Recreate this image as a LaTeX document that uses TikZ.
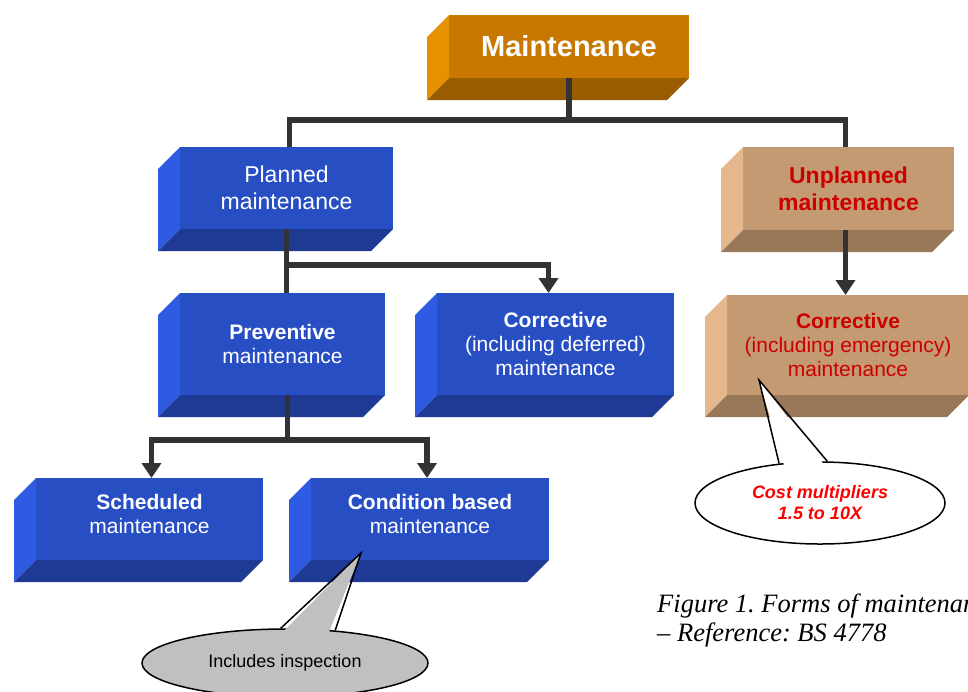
\documentclass[tikz,border=0pt]{standalone}
\usepackage{fontspec}
\setmainfont{Liberation Sans}
\newfontfamily\capfont{Liberation Serif}
\usetikzlibrary{arrows.meta,shapes.geometric,calc}
\frenchspacing
\definecolor{ofront}{HTML}{C87800}
\definecolor{oleft}{HTML}{E69100}
\definecolor{obottom}{HTML}{995C00}
\definecolor{bfront}{HTML}{284EC4}
\definecolor{bleft}{HTML}{2F5BE3}
\definecolor{bbottom}{HTML}{1F3A94}
\definecolor{tfront}{HTML}{C49A72}
\definecolor{tleft}{HTML}{E4B78C}
\definecolor{tbottom}{HTML}{99785A}
\definecolor{linegray}{HTML}{333333}
\definecolor{darkred}{HTML}{CC0000}
\definecolor{callgray}{HTML}{C0C0C0}
\def\bdep{22}
\newcommand\bevelfaces[3]{%
  \fill[#2] (#1.north west) -- ++(-\bdep,\bdep) -- ([shift={(-\bdep,\bdep)}]#1.south west) -- (#1.south west) -- cycle;
  \fill[#3] (#1.south west) -- ++(-\bdep,\bdep) -- ([shift={(-\bdep,\bdep)}]#1.south east) -- (#1.south east) -- cycle;
}
\tikzset{
  face/.style={draw=none, inner sep=0pt, outer sep=0pt, align=center},
  orangebox/.style={face, fill=ofront, text=white},
  bluebox/.style={face, fill=bfront, text=white},
  tanbox/.style={face, fill=tfront, text=darkred},
  bigtext/.style={font=\fontsize{23}{27}\selectfont},
  smalltext/.style={font=\fontsize{21}{24}\selectfont},
  conn/.style={draw=linegray, line width=5.5pt},
  arr/.style={conn, -{Triangle[width=19pt,length=15pt]}},
  callout/.style={ellipse, draw=black, line width=1.5pt, inner sep=0pt, align=center},
}
\begin{document}
\begin{tikzpicture}[x=1pt,y=-1pt]
\useasboundingbox (0,0) rectangle (968,691);

% boxes (front faces)
\node[orangebox, minimum width=240pt, minimum height=63pt, font=\bfseries\fontsize{29}{34}\selectfont] (maint) at (569,46.5) {Maintenance};
\node[bluebox, bigtext, minimum width=213pt, minimum height=82pt] (planned) at (286.5,188) {Planned\\maintenance};
\node[tanbox, bigtext, minimum width=211pt, minimum height=83pt] (unplanned) at (848.5,188.5) {\bfseries Unplanned\\\bfseries maintenance};
\node[bluebox, smalltext, minimum width=205pt, minimum height=102pt] (prev) at (282.5,344) {\textbf{Preventive}\\maintenance};
\node[bluebox, smalltext, minimum width=237pt, minimum height=102pt] (corrdef) at (555.5,344) {\textbf{Corrective}\\(including deferred)\\maintenance};
\node[tanbox, smalltext, minimum width=242pt, minimum height=100pt] (correm) at (848,345) {\textbf{Corrective}\\(including emergency)\\maintenance};
\node[bluebox, smalltext, minimum width=227pt, minimum height=82pt, text depth=10pt] (sched) at (149.5,519) {\textbf{Scheduled}\\maintenance};
\node[bluebox, smalltext, minimum width=238pt, minimum height=82pt, text depth=10pt] (cond) at (430,519) {\textbf{Condition based}\\maintenance};

% bevel faces
\bevelfaces{maint}{oleft}{obottom}
\bevelfaces{planned}{bleft}{bbottom}
\bevelfaces{unplanned}{tleft}{tbottom}
\bevelfaces{prev}{bleft}{bbottom}
\bevelfaces{corrdef}{bleft}{bbottom}
\bevelfaces{correm}{tleft}{tbottom}
\bevelfaces{sched}{bleft}{bbottom}
\bevelfaces{cond}{bleft}{bbottom}

% connectors
\coordinate (j1) at (569,120);
\draw[conn] (maint.south) -- (j1);
\draw[conn] (j1) -| ([xshift=3]planned.north);
\draw[conn] (j1) -| ([xshift=-3]unplanned.north);
\draw[conn] (planned.south) -- (planned.south |- prev.north);
\coordinate (j2) at ($(planned.south)+(0,36)$);
\draw[arr] (j2) -| ([xshift=-7]corrdef.north);
\draw[arr] ([xshift=-3]unplanned.south) -- ([xshift=-3]unplanned.south |- correm.north);
\draw[conn] ([xshift=5]prev.south) -- ++(0,45) coordinate (j3);
\draw[arr] (j3) -| ([xshift=2]sched.north);
\draw[arr] (j3) -| ([xshift=-3]cond.north);

% callout: includes inspection
\node[callout, fill=callgray, minimum width=286pt, minimum height=68pt, font=\fontsize{18}{21}\selectfont] (insp) at (285,663) {Includes inspection};
\coordinate (insptip) at (361,553);
\fill[callgray] (insptip) -- ($(insp.97)!0.15!(insp.center)$) -- ($(insp.33)!0.15!(insp.center)$) -- cycle;
\draw[line width=1.5pt, line join=miter] (insp.97) -- (insptip) -- (insp.33);

% callout: cost multipliers
\node[callout, fill=white, minimum width=250pt, minimum height=82pt, text=red, font=\bfseries\itshape\fontsize{18}{21}\selectfont] (cost) at (820,503) {Cost multipliers\\1.5 to 10X};
\coordinate (costtip) at (759,380);
\fill[white] (costtip) -- ($(cost.136)!0.15!(cost.center)$) -- ($(cost.80)!0.15!(cost.center)$) -- cycle;
\draw[line width=1.5pt, line join=miter] (cost.136) -- (costtip) -- (cost.80);

% caption
\node[anchor=west, align=left, inner sep=0pt, font=\capfont\itshape\fontsize{26.5}{29}\selectfont] (cap) at (657,620) {Figure 1. Forms of maintenance\\– Reference: BS 4778};
\end{tikzpicture}
\end{document}
